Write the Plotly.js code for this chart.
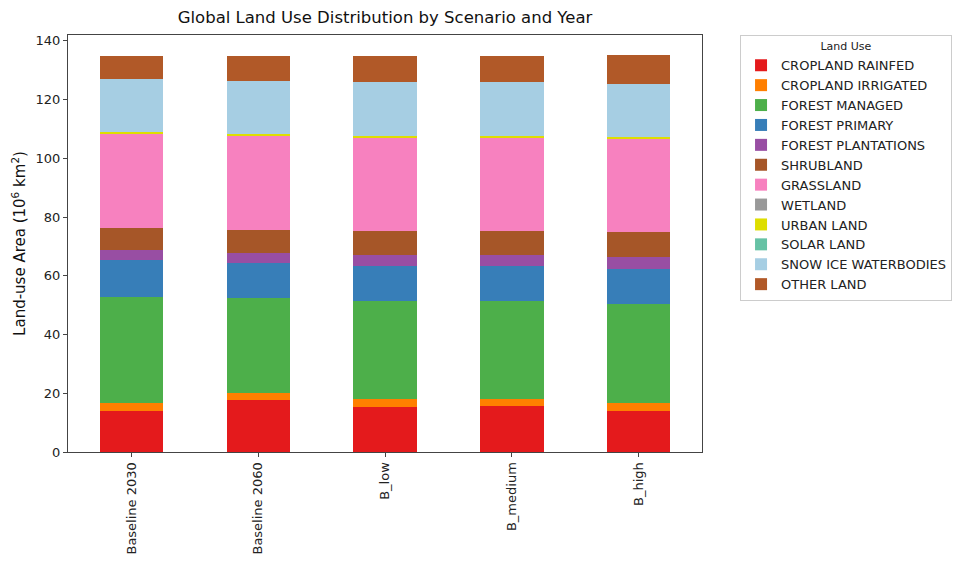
<!DOCTYPE html>
<html>
<head>
<meta charset="utf-8">
<script src="https://cdn.plot.ly/plotly-3.0.1.min.js"></script>
<style>html,body{margin:0;padding:0;background:#fff;}#chart{width:954px;height:561px;}</style>
</head>
<body>
<div id="chart"></div>
<script>
const scenarios = ["Baseline 2030", "Baseline 2060", "B_low", "B_medium", "B_high"];
const landUses = ["CROPLAND RAINFED", "CROPLAND IRRIGATED", "FOREST MANAGED", "FOREST PRIMARY",
  "FOREST PLANTATIONS", "SHRUBLAND", "GRASSLAND", "WETLAND", "URBAN LAND", "SOLAR LAND",
  "SNOW ICE WATERBODIES", "OTHER LAND"];
const colors = ["#e41a1c", "#ff7f00", "#4daf4a", "#377eb8", "#984ea3", "#a65628", "#f781bf",
  "#999999", "#dede00", "#66c2a5", "#a6cee3", "#b15928"];

const croplandRainfed    = [14.1, 17.7, 15.3, 15.6, 14.0];
const croplandIrrigated  = [2.6, 2.4, 2.7, 2.5, 2.6];
const forestManaged      = [36.2, 32.4, 33.3, 33.2, 33.8];
const forestPrimary      = [12.5, 11.8, 12.0, 12.0, 12.0];
const forestPlantations  = [3.3, 3.6, 3.8, 3.8, 4.1];
const shrubland          = [7.7, 7.7, 8.1, 8.1, 8.5];
const grassland          = [31.9, 31.9, 31.8, 31.8, 31.6];
const wetland            = [0.05, 0.05, 0.05, 0.05, 0.05];
const urbanLand          = [0.6, 0.6, 0.5, 0.5, 0.6];
const solarLand          = [0.02, 0.03, 0.05, 0.05, 0.08];
const snowIceWaterbodies = [18.0, 18.0, 18.3, 18.3, 18.1];
const otherLand          = [8.0, 8.8, 9.1, 9.1, 9.6];

const series = [croplandRainfed, croplandIrrigated, forestManaged, forestPrimary, forestPlantations,
  shrubland, grassland, wetland, urbanLand, solarLand, snowIceWaterbodies, otherLand];

const font = "DejaVu Sans, Arial, sans-serif";
const traces = series.map((vals, i) => ({
  type: "bar",
  name: landUses[i],
  x: scenarios,
  y: vals,
  marker: {color: colors[i], line: {width: 0}},
  hoverinfo: "x+y+name"
}));

const layout = {
  width: 954, height: 561,
  barmode: "stack",
  bargap: 0.5,
  margin: {l: 68, r: 252, t: 35, b: 109, autoexpand: false},
  paper_bgcolor: "#fff", plot_bgcolor: "#fff",
  font: {family: font, color: "#222", size: 13},
  title: {text: "Global Land Use Distribution by Scenario and Year", font: {size: 16.5, family: font, color: "#111"},
    x: 0.5, xref: "paper", xanchor: "center", y: 0.97, yref: "container", yanchor: "middle"},
  xaxis: {
    type: "category", range: [-0.5, 4.5], tickangle: -90,
    showline: true, mirror: true, linecolor: "#444", linewidth: 1,
    ticks: "outside", ticklen: 4, tickcolor: "#444", showgrid: false,
    tickfont: {size: 13, family: font, color: "#222"}
  },
  yaxis: {
    range: [0, 142], tickvals: [0, 20, 40, 60, 80, 100, 120, 140],
    showline: true, mirror: true, linecolor: "#444", linewidth: 1,
    ticks: "outside", ticklen: 4, tickcolor: "#444", showgrid: false, zeroline: false,
    tickfont: {size: 13, family: font, color: "#222"},
    title: {text: "Land-use Area (10<sup>6</sup> km<sup>2</sup>)", font: {size: 15, family: font, color: "#111"}, standoff: 6}
  },
  legend: {
    x: 1.06, xanchor: "left", y: 1.0, yanchor: "top",
    traceorder: "normal",
    bordercolor: "#cccccc", borderwidth: 1, bgcolor: "#fff",
    font: {size: 13, family: font, color: "#222"},
    title: {text: "Land Use", side: "top center", font: {size: 11, family: font, color: "#222"}},
    itemwidth: 30, tracegroupgap: 0
  },
  showlegend: true
};

Plotly.newPlot("chart", traces, layout, {displayModeBar: false, staticPlot: true});
</script>
</body>
</html>
